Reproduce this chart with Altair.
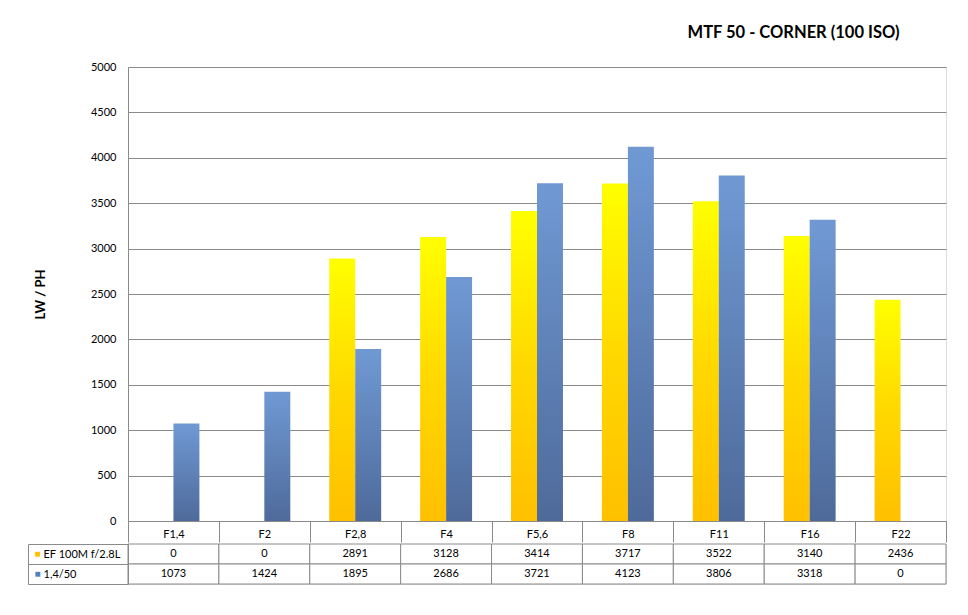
import altair as alt
import pandas as pd

categories = ["F1,4", "F2", "F2,8", "F4", "F5,6", "F8", "F11", "F16", "F22"]
series_names = ["EF 100M f/2.8L", "1,4/50"]
ef_values = [0, 0, 2891, 3128, 3414, 3717, 3522, 3140, 2436]
l50_values = [1073, 1424, 1895, 2686, 3721, 4123, 3806, 3318, 0]
y_ticks = [0, 500, 1000, 1500, 2000, 2500, 3000, 3500, 4000, 4500, 5000]

rows = []
for c, a, b in zip(categories, ef_values, l50_values):
    rows.append({"cat": c, "series": series_names[0], "value": a})
    rows.append({"cat": c, "series": series_names[1], "value": b})
df = pd.DataFrame(rows)

FONT = "Lato"
GRID = "#8a8a8a"

x_scale = alt.Scale(domain=categories, paddingInner=0, paddingOuter=0)
off_scale = alt.Scale(domain=series_names, paddingInner=0, paddingOuter=0.75)

yellow = alt.Gradient(gradient="linear",
                      stops=[alt.GradientStop(color="#FFFF00", offset=0),
                             alt.GradientStop(color="#FFD800", offset=0.5),
                             alt.GradientStop(color="#FFC000", offset=1)],
                      x1=1, x2=1, y1=0, y2=1)
blue = alt.Gradient(gradient="linear",
                    stops=[alt.GradientStop(color="#7099D4", offset=0),
                           alt.GradientStop(color="#4E6A9A", offset=1)],
                    x1=1, x2=1, y1=0, y2=1)

x_enc = alt.X("cat:N", scale=x_scale, sort=categories,
              axis=alt.Axis(title=None, orient="bottom", tickBand="extent", tickSize=21,
                            tickColor=GRID, domainColor=GRID, labelPadding=-14,
                            labelFont=FONT, labelFontSize=11, labelColor="#000",
                            labelAngle=0, grid=False, minExtent=21, maxExtent=21))
y_enc = alt.Y("value:Q", scale=alt.Scale(domain=[0, 5000]),
              axis=alt.Axis(title="LW / PH", values=y_ticks, format="d", ticks=False,
                            labelPadding=12,
                            labelFont=FONT, labelFontSize=11, labelColor="#000",
                            titleFont=FONT, titleFontSize=13, titleFontWeight="bold",
                            titleColor="#000", titlePadding=43,
                            domainColor=GRID, gridColor=GRID, grid=True))
off_enc = alt.XOffset("series:N", scale=off_scale, sort=series_names)

bars_ef = alt.Chart(df).transform_filter(
    alt.datum.series == series_names[0]
).mark_bar(color=yellow).encode(x=x_enc, y=y_enc, xOffset=off_enc)
bars_50 = alt.Chart(df).transform_filter(
    alt.datum.series == series_names[1]
).mark_bar(color=blue).encode(x=x_enc, y=y_enc, xOffset=off_enc)

top = alt.layer(bars_ef, bars_50).properties(
    width=818, height=454,
    title=alt.TitleParams("MTF 50 - CORNER (100 ISO)", anchor="end", dx=-47, offset=20,
                          font=FONT, fontSize=16.5, fontWeight="bold", color="#000"),
)

row_enc_main = alt.Y("series:N", sort=series_names,
                     scale=alt.Scale(domain=series_names, paddingInner=0, paddingOuter=0),
                     axis=alt.Axis(title=None, orient="left", tickBand="extent", tickSize=100,
                                   tickColor=GRID, domainColor=GRID, labelAlign="left",
                                   labelPadding=-15, labelFont=FONT, labelFontSize=11,
                                   labelColor="#000", grid=False, zindex=1))
row_enc_sq = alt.Y("series:N", sort=series_names,
                   scale=alt.Scale(domain=series_names, paddingInner=0, paddingOuter=0),
                   axis=alt.Axis(title=None, orient="left", offset=100, ticks=False,
                                 domainColor=GRID, labelAlign="left", labelPadding=-6,
                                 labelExpr="'■'", labelFontSize=10, zindex=1,
                                 labelColor=alt.condition(
                                     "datum.value == 'EF 100M f/2.8L'",
                                     alt.value("#FFC000"), alt.value("#4F81BD")),
                                 grid=False))
x_tab = alt.X("cat:N", scale=x_scale, sort=categories, axis=None)

cells = alt.Chart(df).mark_rect(fill="white", stroke=GRID, strokeWidth=1).encode(
    x=x_tab, y=row_enc_main)
texts = alt.Chart(df).mark_text(font=FONT, fontSize=11, color="#000").encode(
    x=x_tab, y=row_enc_sq, text=alt.Text("value:Q", format="d"))

table = alt.layer(cells, texts).resolve_axis(y="independent").properties(
    width=818, height=40)

chart = alt.vconcat(top, table, spacing=-6).properties(
    padding={"left": 19, "top": 16, "right": 5, "bottom": 5}
).configure_view(stroke=None).configure(background="white")

chart.save("out.html", embed_options={"renderer": "svg", "actions": False})
